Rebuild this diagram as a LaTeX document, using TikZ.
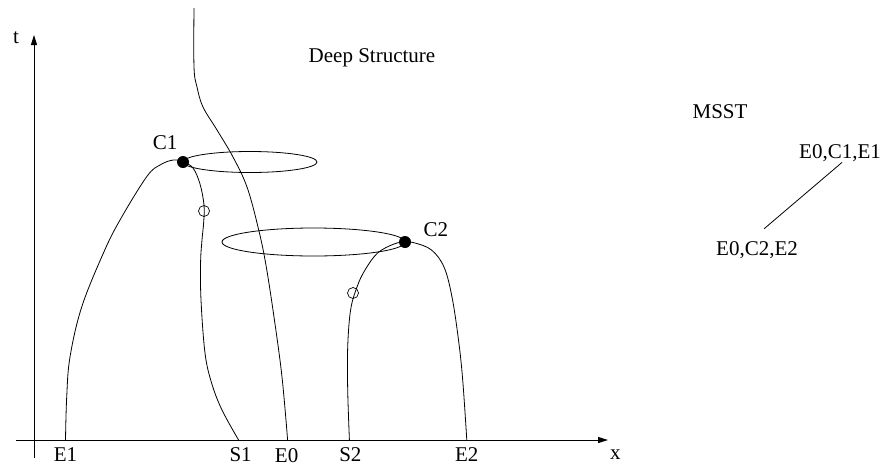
\documentclass[tikz,border=0pt]{standalone}
\usepackage{fontspec}
\setmainfont{Liberation Serif}
\usetikzlibrary{arrows.meta,positioning}

\begin{document}
\begin{tikzpicture}[x=1pt, y=-1pt,
  lbl/.style={inner sep=0pt, font=\fontsize{21}{25}\selectfont},
  axis/.style={line width=1pt, -{Triangle[length=10pt, width=6pt]}},
  curve/.style={line width=0.8pt},
  dot/.style={circle, fill, inner sep=0pt, minimum size=12pt},
  ring/.style={circle, draw, line width=0.7pt, inner sep=0pt, minimum size=11pt}]
\useasboundingbox (0,0) rectangle (885,466);

% axes
\coordinate (tbot) at (34,458);
\coordinate (ttop) at (34,35);
\coordinate (xbeg) at (16,440);
\coordinate (xtip) at (608,440);
\draw[axis] (tbot) -- (ttop);
\draw[axis] (xbeg) -- (xtip);
\node[lbl] (tlab) at (16,38) {t};
\node[lbl, below right=10pt and 2pt of xtip] (xlab) {x};

% feet of the curves on the x axis
\coordinate (e1) at (65.5,440);
\coordinate (s1) at (238.6,440);
\coordinate (e0) at (287.6,440);
\coordinate (s2) at (349.4,440);
\coordinate (e2) at (466.8,440);
\node[lbl, below=7pt of e1] (e1lab) {E1};
\node[lbl, below=7pt of s1, xshift=2pt] (s1lab) {S1};
\node[lbl, below=8pt of e0, xshift=-1pt] (e0lab) {E0};
\node[lbl, below=7pt of s2, xshift=1pt] (s2lab) {S2};
\node[lbl, below=7pt of e2] (e2lab) {E2};

% critical points
\node[dot] (c1) at (183,162) {};
\node[dot] (c2) at (405,242) {};
\node[lbl, above left=8pt and 1pt of c1] (c1lab) {C1};
\node[lbl, above right=1pt and 14pt of c2] (c2lab) {C2};

% scale space paths
\draw[curve] plot[smooth, tension=0.6] coordinates {(e1) (66.7,397) (70,357) (81.7,307)
  (103.3,253.3) (120,220) (146.7,176.7) (160,165) (173.3,160) (c1) (193,168)
  (200,184) (204,205) (203.7,222) (202,240) (200.6,262) (201,300) (205,353) (211.6,383)
  (222,410) (s1)};
\draw[curve] plot[smooth, tension=0.6] coordinates {(194,8) (194,67) (197,87) (203,107) (217,130)
  (233,157) (247,187) (258,227) (265.6,263) (274,317) (282,377) (e0)};
\draw[curve] plot[smooth, tension=0.6] coordinates {(s2) (347.7,390) (347.7,347) (350.6,310)
  (357,287) (365,270) (377.6,253) (394,244) (c2) (415,243) (431.5,250) (444,267) (452,297)
  (458.5,340) (462.7,380) (e2)};
\node[ring] (m1) at (204,211) {};
\node[ring] (m2) at (353,293) {};

% iso-intensity manifolds
\draw[curve] (c1) ++(67,0) ellipse [x radius=67pt, y radius=10.5pt];
\draw[curve] (c2) ++(-91.5,0) ellipse [x radius=91.5pt, y radius=14pt];

\node[lbl, anchor=base] (title) at (372,62) {Deep Structure};

% tree
\node[lbl, anchor=base] (msst) at (720,118) {MSST};
\node[lbl, anchor=base] (n1) at (840,158) {E0,C1,E1};
\node[lbl, anchor=base] (n2) at (757,255) {E0,C2,E2};
\draw[curve] ([xshift=2pt, yshift=-1pt]n1.south) -- ([xshift=7pt, yshift=12pt]n2.north);
\end{tikzpicture}
\end{document}
